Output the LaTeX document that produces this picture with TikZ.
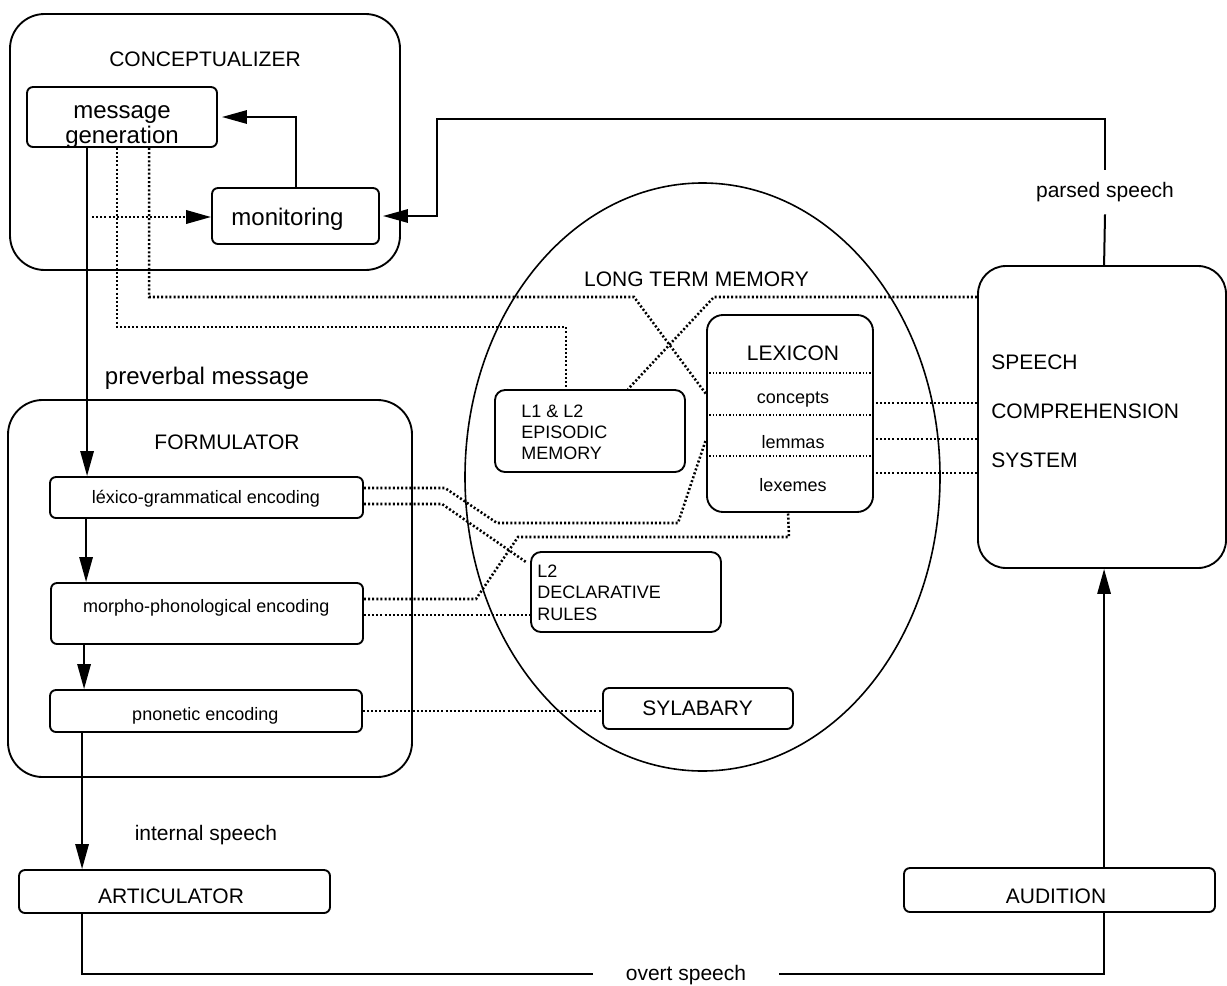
\documentclass[tikz,border=0pt]{standalone}
\usepackage{fontspec}
\setmainfont{Liberation Sans}
\usetikzlibrary{arrows.meta,shapes.geometric,calc}
\begin{document}
\begin{tikzpicture}[x=0.75pt,y=-0.75pt,
  sz/.style 2 args={minimum width=#1*0.75pt, minimum height=#2*0.75pt},
  box/.style={draw, line width=1.4pt, rounded corners=4.5pt, inner sep=0pt},
  txt/.style={inner sep=0pt, anchor=base},
  ttl/.style={txt, font=\fontsize{15.75pt}{18pt}\selectfont},
  big/.style={txt, font=\fontsize{18pt}{20pt}\selectfont},
  sml/.style={txt, font=\fontsize{13.5pt}{15pt}\selectfont},
  conn/.style={line width=1.5pt},
  arr/.style={conn, -{Triangle[length=18.75pt,width=10pt]}},
  dot/.style={line width=1.9pt, dash pattern=on 1.5pt off 1.6pt},
  thindot/.style={line width=0.9pt, dash pattern=on 0.9pt off 1.6pt},
]
\useasboundingbox (0,0) rectangle (1227,985);

% ---------- long term memory ----------
\node[draw, ellipse, line width=1.2pt, inner sep=0pt, sz={475}{588}] (ltm) at (702.5,477) {};
\node[ttl] (ltmT) at (696.5,286.5) {LONG TERM MEMORY};

\node[box, rounded corners=12pt, sz={166}{197}] (lexicon) at (790,413.5) {};
\node[ttl] (lexT) at (793,360) {LEXICON};
\node[sml] (concepts) at (793,403) {concepts};
\node[sml] (lemmas) at (793,448) {lemmas};
\node[sml] (lexemes) at (793,491) {lexemes};
\draw[thindot] ($(lexicon.north west)+(0,59)$) -- ++(168,0);
\draw[thindot] ($(lexicon.north west)+(0,101)$) -- ++(168,0);
\draw[thindot] ($(lexicon.north west)+(0,142)$) -- ++(168,0);

\node[box, rounded corners=7.5pt, sz={190}{82}] (ep) at (590,431) {};
\node[sml, anchor=base west] (ep1) at (521,417) {L1 \& L2};
\node[sml, anchor=base west] (ep2) at (521,438) {EPISODIC};
\node[sml, anchor=base west] (ep3) at (521,459) {MEMORY};

\node[box, rounded corners=7.5pt, sz={190}{80}] (l2) at (626,592) {};
\node[sml, anchor=base west] (l2a) at (537,577) {L2};
\node[sml, anchor=base west] (l2b) at (537,598) {DECLARATIVE};
\node[sml, anchor=base west] (l2c) at (537,620) {RULES};

\node[box, sz={190}{41}] (syl) at (698,708.5) {};
\node[ttl] (sylT) at (697.5,715) {SYLABARY};

% ---------- conceptualizer ----------
\node[box, rounded corners=26pt, sz={390}{256}] (concept) at (205,142) {};
\node[ttl] (conceptT) at (205,66) {CONCEPTUALIZER};
\node[box, sz={190}{60}] (msg) at (122,117) {};
\node[big] (msgA) at (122,118) {message};
\node[big] (msgB) at (122,143) {generation};
\node[box, sz={167}{56}] (mon) at (295.5,216) {};
\node[big] (monT) at (287.5,225) {monitoring};

% ---------- formulator ----------
\node[big] (prev) at (207,384) {preverbal message};
\node[box, rounded corners=26pt, sz={404}{377}] (form) at (210,588.5) {};
\node[ttl] (formT) at (227,449) {FORMULATOR};
\node[box, sz={313}{41}] (lexb) at (206.5,497.5) {};
\node[sml] (lexbT) at (206,503) {léxico-grammatical encoding};
\node[box, sz={312}{61}] (morph) at (207,613.5) {};
\node[sml] (morphT) at (206.3,612) {morpho-phonological encoding};
\node[box, sz={312}{42}] (phon) at (206,711) {};
\node[sml] (phonT) at (205.3,720) {pnonetic encoding};

% ---------- articulator, audition, comprehension ----------
\node[ttl] (internal) at (206,840) {internal speech};
\node[box, sz={311}{43}] (artic) at (174.5,891.5) {};
\node[ttl] (articT) at (171,903) {ARTICULATOR};
\node[box, sz={311}{44}] (audit) at (1059.5,890) {};
\node[ttl] (auditT) at (1056,903) {AUDITION};
\node[ttl] (overt) at (686,980) {overt speech};

\node[box, rounded corners=21pt, sz={248}{302}] (speech) at (1102,417) {};
\node[ttl, anchor=base west] (sp1) at (991,369) {SPEECH};
\node[ttl, anchor=base west] (sp2) at (991,418) {COMPREHENSION};
\node[ttl, anchor=base west] (sp3) at (991,467) {SYSTEM};
\node[ttl, anchor=center, minimum height=44*0.75pt] (parsed) at (1105,192) {parsed speech};

% ---------- solid connectors ----------
\draw[arr, shorten >=3pt] (mon.north) |- (msg.east);
\coordinate (mfeed) at (92,217);
\draw[dot, -{Triangle[length=18.75pt,width=10pt]}] (mfeed) -- (mon.west |- mfeed);

\draw[arr] ($(msg.south west)+(61,0)$) -- ($(lexb.north west)+(38,0)$);
\draw[arr] ($(lexb.south west)+(37,0)$) -- ($(morph.north west)+(36,0)$);
\draw[arr] ($(morph.south west)+(34,0)$) -- ($(phon.north west)+(35,0)$);
\draw[arr] ($(phon.south west)+(33,0)$) -- ($(artic.north west)+(64,0)$);

\coordinate (ovL) at (593,974);
\coordinate (ovR) at (779,974);
\draw[conn] ($(artic.south west)+(64,0)$) |- (ovL);
\draw[conn] (ovR) -| ($(audit.south west)+(201,0)$);
\draw[arr] ($(audit.north west)+(201,0)$) -- ($(speech.south west)+(127,0)$);
\draw[conn] ($(speech.north west)+(127,0)$) -- (parsed.south);
\coordinate (fbk) at (437,119);
\draw[arr, shorten >=2.25pt] (parsed.north) |- (fbk) |- (mon.east);

% ---------- dotted links ----------
\coordinate (a1) at (634,297);
\draw[dot] ($(msg.south west)+(123,0)$) |- (a1) -- ($(lexicon.north west)+(0,80)$);
\coordinate (b1) at (714,297);
\draw[dot] (speech.west |- b1) -- (b1) -- ($(ep.north west)+(134,0)$);
\coordinate (c1) at (566,327);
\draw[dot] ($(msg.south west)+(91,0)$) |- (c1) -- (ep.north -| c1);

\draw[dot] ($(lexb.east)+(0,-9.5)$) -- (445,488) -- (497,523) -- (678,523)
  -- ($(lexicon.north west)+(0,125)$);
\draw[dot] ($(lexb.east)+(0,6.5)$) -- (442,504) -- ($(l2.north west)+(-4,11)$);
\draw[dot] ($(morph.east)+(0,-14.5)$) -- (476,599) -- (518,537) -- (789,537)
  -- ($(lexicon.south west)+(82,0)$);
\coordinate (g1) at ($(morph.east)+(0,1.5)$);
\draw[dot] (g1) -- (l2.west |- g1);
\draw[dot] (phon.east) -- (syl.west |- phon.east);

\coordinate (i1) at ($(lexicon.north east)+(2,89)$);
\coordinate (i2) at ($(lexicon.north east)+(2,125)$);
\coordinate (i3) at ($(lexicon.north east)+(2,159)$);
\draw[dot] (i1) -- (speech.west |- i1);
\draw[dot] (i2) -- (speech.west |- i2);
\draw[dot] (i3) -- (speech.west |- i3);
\end{tikzpicture}
\end{document}
